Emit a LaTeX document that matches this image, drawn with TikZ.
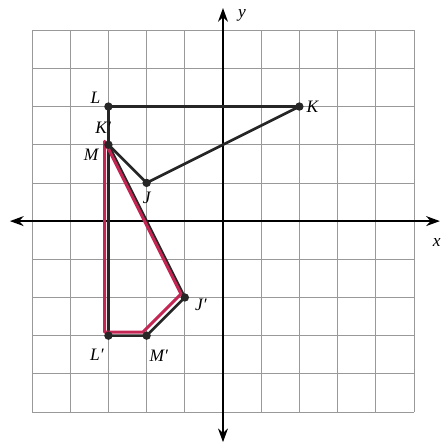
\documentclass[tikz,border=0pt]{standalone}
\usepackage{fontspec}
\setmainfont{Liberation Serif}
\usetikzlibrary{arrows.meta}
\tikzstyle{vx}=[shape=circle, minimum size=2.2mm, inner sep=0, fill=black!85]
\tikzstyle{lbl}=[font=\fontsize{13}{15}\selectfont\itshape, inner sep=0pt]
\tikzstyle{seg}=[line width=2pt, black!85, line join=round]
\tikzstyle{axis}=[line width=1.3pt, {Stealth[length=3.6mm,width=2.6mm]}-{Stealth[length=3.6mm,width=2.6mm]}]
\definecolor{pen}{RGB}{196,38,84}

\begin{document}
\begin{tikzpicture}
\useasboundingbox (-5.84,-5.89) rectangle (5.84,5.79);
\draw[black!40, line width=0.5pt] (-5,-5) grid (5,5);
\coordinate (xl) at (-5.58,0);
\coordinate (xr) at (5.68,0);
\coordinate (yb) at (0,-5.79);
\coordinate (yt) at (0,5.58);
\draw[axis] (xl)--(xr);
\draw[axis] (yb)--(yt);
\node[lbl] (xlab) at (5.6,-0.55) {x};
\node[lbl] (ylab) at (0.5,5.39) {y};
% original figure
\coordinate (L) at (-3,3);
\coordinate (K) at (2,3);
\coordinate (M) at (-3,2);
\coordinate (J) at (-2,1);
% image
\coordinate (Jp) at (-1,-2);
\coordinate (Lp) at (-3,-3);
\coordinate (Mp) at (-2,-3);
\draw[seg] (L)--(K)--(J)--(M)--(L);
\draw[seg] (L)--(Lp)--(Mp)--(Jp)--(M);
% red pen over the image, a little off the ruled lines
\foreach \p in {M,Lp,Mp,Jp}
	\coordinate (r\p) at ([shift={(-0.1,0.09)}]\p);
\draw[pen, line width=2.2pt, line join=round] (rM)--(rLp)--(rMp)--(rJp)--cycle;
\foreach \p in {L,K,M,J,Jp,Lp,Mp}
	\node[vx] (d\p) at (\p) {};
\node[lbl] (lL) at ([shift={(-0.34,0.24)}]L) {L};
\node[lbl] (lK) at ([shift={(0.34,0)}]K) {K};
\node[lbl] (lKp) at ([shift={(-0.14,0.45)}]M) {K′};
\node[lbl] (lM) at ([shift={(-0.45,-0.26)}]M) {M};
\node[lbl] (lJ) at ([shift={(0,-0.38)}]J) {J};
\node[lbl] (lJp) at ([shift={(0.42,-0.2)}]Jp) {J′};
\node[lbl] (lLp) at ([shift={(-0.3,-0.5)}]Lp) {L′};
\node[lbl] (lMp) at ([shift={(0.32,-0.52)}]Mp) {M′};
\end{tikzpicture}
\end{document}
